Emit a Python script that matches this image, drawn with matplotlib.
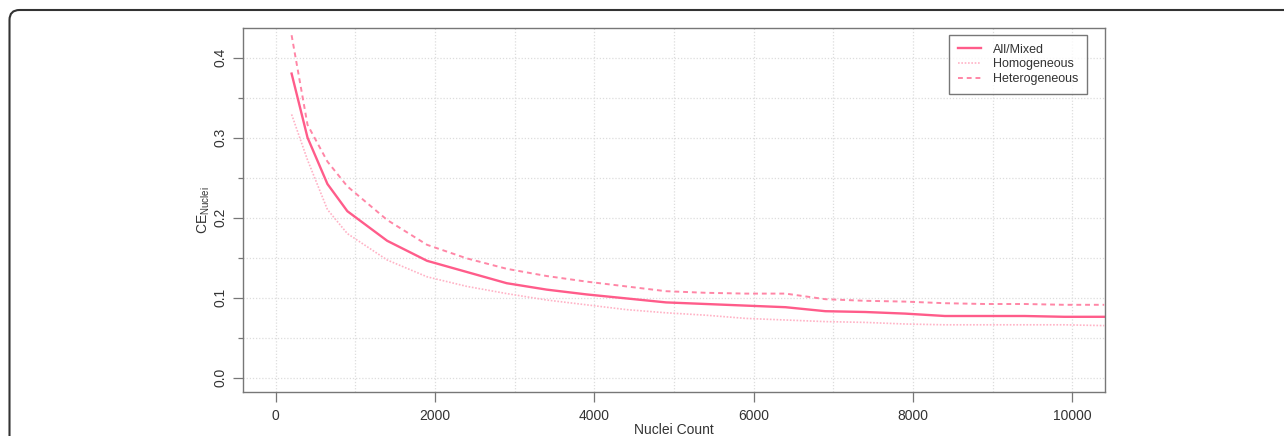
import numpy as np
import matplotlib
matplotlib.use('Agg')
import matplotlib.pyplot as plt
from matplotlib.patches import FancyBboxPatch
from matplotlib.transforms import IdentityTransform

plt.rcParams['font.family'] = ['Liberation Sans', 'DejaVu Sans']
plt.rcParams['mathtext.default'] = 'regular'

# data
nuclei = [200, 400, 650, 900, 1400, 1900, 2400, 2900, 3400, 3900, 4400, 4900,
          5400, 5900, 6400, 6900, 7400, 7900, 8400, 8900, 9400, 9900, 10400]
ce_all = [0.380, 0.300, 0.242, 0.208, 0.171, 0.146, 0.132, 0.118, 0.110, 0.104, 0.099, 0.094,
          0.092, 0.090, 0.088, 0.083, 0.082, 0.080, 0.077, 0.077, 0.077, 0.076, 0.076]
ce_homog = [0.329, 0.272, 0.210, 0.180, 0.147, 0.126, 0.114, 0.105, 0.097, 0.091, 0.085, 0.081,
            0.078, 0.074, 0.072, 0.070, 0.069, 0.067, 0.066, 0.066, 0.066, 0.066, 0.065]
ce_heterog = [0.428, 0.316, 0.270, 0.239, 0.197, 0.166, 0.149, 0.136, 0.127, 0.120, 0.114, 0.108,
              0.106, 0.105, 0.105, 0.098, 0.096, 0.095, 0.093, 0.092, 0.092, 0.091, 0.091]

labels = ['All/Mixed', 'Homogeneous', 'Heterogeneous']
xticks = [0, 2000, 4000, 6000, 8000, 10000]
yticks = [0.0, 0.1, 0.2, 0.3, 0.4]

# figure setup
W, H = 1284, 436
fig = plt.figure(figsize=(W / 100, H / 100), dpi=100, facecolor='white')
ax = fig.add_axes([243 / W, 1 - 392 / H, (1105 - 243) / W, (392 - 28) / H])

# outer rounded frame (only top + left edges fall inside the picture)
frame = FancyBboxPatch((9.5, -100), 1500, 426 + 100, boxstyle='round,pad=0,rounding_size=10',
                       transform=IdentityTransform(), fill=False, edgecolor='#333333',
                       linewidth=1.5, clip_on=False)
fig.add_artist(frame)

ax.plot(nuclei, ce_all, color='#ff5c8a', linewidth=1.7, linestyle='-', label=labels[0])
ax.plot(nuclei, ce_homog, color='#ffb3c6', linewidth=1.2, linestyle=(0, (1, 1)), label=labels[1])
ax.plot(nuclei, ce_heterog, color='#ff86a6', linewidth=1.4, linestyle=(0, (2.5, 2)), label=labels[2])

ax.set_xlim(-410, 10410)
ax.set_ylim(-0.018, 0.437)

ax.set_xticks(xticks)
ax.set_xticks(np.arange(0, 10001, 1000), minor=True)
ax.set_yticks(yticks)
ax.set_yticks(np.arange(0.0, 0.42, 0.05), minor=True)
ax.set_yticklabels(['%.1f' % v for v in yticks], rotation=90, va='center')

ax.grid(which='both', color='#dddddd', linestyle=(0, (1, 1.5)), linewidth=0.9)
ax.set_axisbelow(True)

for s in ax.spines.values():
    s.set_color('#777777')
    s.set_linewidth(1.0)
ax.tick_params(which='major', direction='out', length=7, width=0.9, color='#777777',
               labelsize=10, labelcolor='#333333')
ax.tick_params(axis='x', which='major', pad=5)
ax.tick_params(axis='y', which='major', pad=4)
ax.tick_params(which='minor', direction='out', length=3.5, width=0.9, color='#777777')
ax.tick_params(axis='x', which='minor', length=0)

ax.set_xlabel('Nuclei Count', fontsize=10, color='#333333', labelpad=0)
ax.set_ylabel('CE$_{Nuclei}$', fontsize=10, color='#333333', labelpad=1)

leg = ax.legend(loc='upper right', bbox_to_anchor=(0.9795, 0.9815), fontsize=9, frameon=True,
                fancybox=False, edgecolor='#555555', handlelength=1.85, labelspacing=0.22,
                borderpad=0.72, handletextpad=0.95, borderaxespad=0)
leg.get_frame().set_linewidth(1.0)
for t in leg.get_texts():
    t.set_color('#333333')

fig.savefig('out.png', dpi=100, facecolor='white')
